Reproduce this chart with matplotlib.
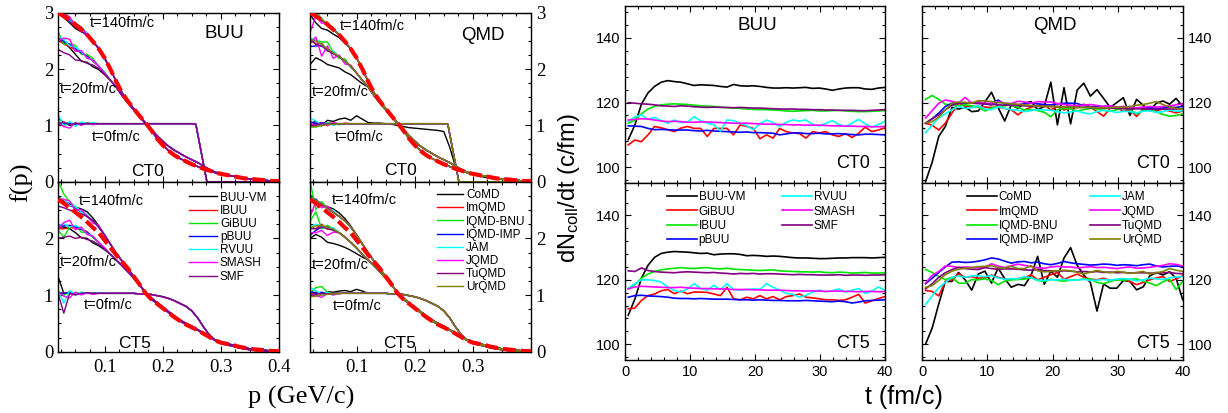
import numpy as np
import matplotlib
matplotlib.use("Agg")
import matplotlib.pyplot as plt
from matplotlib.ticker import MultipleLocator

plt.rcParams['font.family'] = ['Liberation Sans', 'DejaVu Sans']
plt.rcParams['mathtext.fontset'] = 'custom'
plt.rcParams['mathtext.rm'] = 'Liberation Sans'
plt.rcParams['mathtext.it'] = 'Liberation Sans:italic'
SERIF = ['Liberation Serif', 'DejaVu Serif']

W, H = 1228, 413

BLACK, RED, GREEN, BLUE = '#000000', '#ff0000', '#00e600', '#0000ff'
CYAN, MAGENTA, PURPLE, OLIVE = '#00ffff', '#ff00ff', '#800080', '#808000'

########################################################################
# f(p) data
########################################################################

P_GRID = [0.02, 0.03, 0.04, 0.05, 0.06, 0.07, 0.08, 0.09, 0.10, 0.11,
          0.12, 0.13, 0.14, 0.15, 0.16, 0.17, 0.18, 0.19, 0.20, 0.21,
          0.22, 0.23, 0.24, 0.25, 0.26, 0.27, 0.28, 0.29, 0.30, 0.31,
          0.32, 0.33, 0.34, 0.35, 0.36, 0.37, 0.38, 0.39, 0.40]
# Fermi step at t=0 for CT0
P_STEP = P_GRID[:24] + [0.257, 0.276, 0.30, 0.35, 0.40]

# equilibrium (red dashed)
RED_CT0 = [3.00, 2.94, 2.87, 2.79, 2.70, 2.61, 2.49, 2.36, 2.20, 2.00,
           1.78, 1.58, 1.43, 1.30, 1.17, 1.05, 0.92, 0.77, 0.65, 0.55,
           0.47, 0.41, 0.36, 0.31, 0.27, 0.23, 0.20, 0.16, 0.14, 0.12,
           0.10, 0.08, 0.06, 0.05, 0.04, 0.03, 0.02, 0.01, 0.01]
RED_CT5 = [2.69, 2.62, 2.54, 2.46, 2.38, 2.29, 2.19, 2.10, 1.97, 1.84,
           1.71, 1.59, 1.47, 1.33, 1.19, 1.04, 0.93, 0.85, 0.77, 0.69,
           0.61, 0.54, 0.48, 0.43, 0.38, 0.32, 0.26, 0.20, 0.16, 0.14,
           0.12, 0.09, 0.07, 0.05, 0.04, 0.03, 0.02, 0.01, 0.01]

# typical transport curves at each time
T0_CT0 = [1.03, 1.03, 1.03, 1.03, 1.03, 1.03, 1.03, 1.03, 1.03, 1.03,
          1.03, 1.03, 1.03, 1.03, 1.03, 1.03, 1.03, 1.03, 1.03, 1.03,
          1.03, 1.03, 1.03, 1.03, 1.02, 0.00, 0.00, 0.00, 0.00]
T20_CT0 = [2.55, 2.49, 2.43, 2.36, 2.29, 2.22, 2.14, 2.05, 1.93, 1.80,
           1.68, 1.53, 1.40, 1.28, 1.16, 1.04, 0.93, 0.82, 0.72, 0.63,
           0.56, 0.50, 0.44, 0.39, 0.34, 0.28, 0.22, 0.17, 0.14, 0.12,
           0.10, 0.08, 0.06, 0.05, 0.04, 0.03, 0.02, 0.01, 0.01]
T140_CT0 = RED_CT0
T0_CT5 = [1.03, 1.03, 1.03, 1.03, 1.03, 1.03, 1.03, 1.03, 1.03, 1.03,
          1.03, 1.03, 1.03, 1.03, 1.02, 1.02, 1.01, 0.99, 0.97, 0.94,
          0.90, 0.85, 0.80, 0.72, 0.60, 0.44, 0.30, 0.20, 0.15, 0.12,
          0.10, 0.07, 0.05, 0.035, 0.02, 0.01, 0.00, 0.00, 0.00]
T20_CT5 = [2.20, 2.22, 2.22, 2.20, 2.16, 2.10, 2.02, 1.93, 1.83, 1.72,
           1.62, 1.52, 1.41, 1.30, 1.18, 1.05, 0.95, 0.87, 0.79, 0.71,
           0.63, 0.56, 0.50, 0.45, 0.39, 0.33, 0.27, 0.21, 0.17, 0.14,
           0.12, 0.09, 0.07, 0.05, 0.04, 0.03, 0.02, 0.01, 0.01]
T140_CT5 = [2.72, 2.66, 2.60, 2.53, 2.46, 2.39, 2.31, 2.20, 2.06, 1.90,
            1.74, 1.60, 1.47, 1.33, 1.19, 1.04, 0.93, 0.85, 0.77, 0.69,
            0.61, 0.54, 0.48, 0.43, 0.38, 0.32, 0.26, 0.20, 0.16, 0.14,
            0.12, 0.09, 0.07, 0.05, 0.04, 0.03, 0.02, 0.01, 0.01]

# deviations of each code at low momentum (p = 0.02 ... 0.11): t0, t20, t140
BUU_FP = [
    ('BUU-VM', BLACK, [0.09, 0.02, -0.03, 0.0, -0.02, 0.01, 0.0, 0.0, 0.0, 0.0],
                      [0.0, -0.02, -0.05, -0.10, -0.15, -0.10, -0.10, -0.06, -0.03, 0.0],
                      [0.02, -0.03, -0.05, -0.07, -0.04, 0.02, 0.03, 0.0, -0.02, 0.0]),
    ('IBUU', RED,     [0.0, 0.01, -0.01, 0.0, 0.01, 0.0, 0.0, 0.0, 0.0, 0.0],
                      [-0.03, -0.05, -0.03, -0.02, 0.0, 0.02, 0.0, 0.0, 0.0, 0.0],
                      [0.0, 0.01, -0.02, 0.02, 0.0, -0.01, 0.01, 0.0, 0.0, 0.0]),
    ('GiBUU', GREEN,  [0.04, -0.03, 0.03, -0.02, 0.02, 0.0, 0.01, 0.0, 0.0, 0.0],
                      [0.12, -0.05, 0.02, 0.06, -0.03, 0.04, 0.05, 0.0, 0.02, 0.0],
                      [0.05, 0.08, 0.04, 0.02, 0.05, 0.03, 0.0, 0.02, 0.0, 0.0]),
    ('pBUU', BLUE,    [0.0, 0.0, 0.01, -0.01, 0.0, 0.0, 0.0, 0.0, 0.0, 0.0],
                      [0.02, 0.0, 0.01, 0.0, 0.0, 0.0, 0.01, 0.0, 0.0, 0.0],
                      [0.02, 0.0, 0.01, -0.01, 0.01, 0.0, 0.0, 0.0, 0.0, 0.0]),
    ('RVUU', CYAN,    [0.18, -0.06, 0.04, -0.05, 0.03, 0.0, 0.02, 0.0, 0.0, 0.0],
                      [0.02, 0.04, -0.02, 0.03, 0.02, -0.02, 0.02, 0.0, 0.0, 0.0],
                      [0.0, 0.03, -0.02, 0.04, 0.0, 0.03, -0.02, 0.02, 0.0, 0.0]),
    ('SMASH', MAGENTA, [0.02, -0.05, -0.08, 0.02, -0.03, 0.01, -0.02, 0.0, 0.0, 0.0],
                       [-0.05, 0.06, 0.10, -0.05, 0.04, -0.03, 0.02, 0.0, 0.0, 0.0],
                       [-0.04, 0.03, 0.06, -0.03, 0.05, 0.0, -0.04, 0.03, 0.0, 0.0]),
    ('SMF', PURPLE,   [0.0, 0.03, -0.02, 0.01, -0.01, 0.0, 0.0, 0.0, 0.0, 0.0],
                      [-0.20, -0.20, -0.18, -0.20, -0.14, -0.12, -0.07, -0.04, -0.02, 0.0],
                      [0.0, -0.02, -0.03, -0.05, -0.03, -0.02, 0.0, 0.0, 0.0, 0.0]),
]
QMD_FP = [
    ('CoMD', BLACK,   [0.0, 0.02, -0.02, 0.03, 0.02, 0.04, 0.05, 0.03, 0.07, 0.04],
                      [-0.47, -0.29, -0.28, -0.28, -0.24, -0.20, -0.19, -0.15, -0.11, -0.06],
                      [-0.03, -0.12, -0.15, -0.10, -0.08, -0.05, -0.03, 0.0, 0.0, 0.0]),
    ('ImQMD', RED,    [-0.02, 0.01, -0.01, 0.02, 0.0, -0.01, 0.01, 0.0, 0.0, 0.0],
                      [0.0, -0.05, 0.03, -0.04, 0.02, 0.0, 0.01, 0.0, 0.0, 0.0],
                      [0.0, 0.02, -0.02, 0.03, 0.0, 0.0, 0.0, 0.0, 0.0, 0.0]),
    ('IQMD-BNU', GREEN, [-0.05, -0.06, -0.03, 0.0, 0.01, -0.02, 0.0, 0.0, 0.0, 0.0],
                        [-0.05, 0.02, 0.05, 0.12, 0.0, -0.03, 0.04, -0.02, 0.0, 0.0],
                        [0.05, 0.10, 0.02, -0.02, 0.03, 0.0, 0.0, 0.0, 0.0, 0.0]),
    ('IQMD-IMP', BLUE, [0.04, 0.0, 0.02, -0.01, 0.0, 0.0, 0.0, 0.0, 0.0, 0.0],
                       [-0.15, -0.08, -0.02, 0.0, 0.0, 0.0, 0.0, 0.0, 0.0, 0.0],
                       [-0.02, 0.03, 0.0, 0.0, 0.0, 0.0, 0.0, 0.0, 0.0, 0.0]),
    ('JAM', CYAN,     [0.10, 0.05, -0.02, 0.02, -0.03, 0.0, 0.0, 0.0, 0.0, 0.0],
                      [0.0, 0.03, 0.0, -0.02, 0.03, 0.0, 0.0, 0.0, 0.0, 0.0],
                      [0.03, 0.0, 0.03, -0.02, 0.04, 0.0, 0.0, 0.0, 0.0, 0.0]),
    ('JQMD', MAGENTA, [0.03, -0.05, 0.01, -0.04, 0.02, 0.0, 0.0, 0.0, 0.0, 0.0],
                      [-0.10, 0.08, -0.20, 0.05, -0.10, 0.03, -0.05, 0.02, 0.0, 0.0],
                      [-0.35, 0.0, -0.06, 0.04, 0.0, 0.0, 0.0, 0.0, 0.0, 0.0]),
    ('TuQMD', PURPLE, [-0.04, -0.02, 0.0, -0.01, 0.0, 0.0, 0.0, 0.0, 0.0, 0.0],
                      [-0.03, -0.05, -0.02, -0.03, -0.02, 0.0, 0.0, 0.0, 0.0, 0.0],
                      [0.02, -0.02, 0.0, 0.0, 0.0, 0.0, 0.0, 0.0, 0.0, 0.0]),
    ('UrQMD', OLIVE,  [-0.06, -0.05, -0.03, -0.02, -0.01, 0.0, 0.0, 0.0, 0.0, 0.0],
                      [-0.02, 0.0, 0.01, 0.0, 0.0, 0.0, 0.0, 0.0, 0.0, 0.0],
                      [0.0, 0.01, 0.02, 0.0, 0.0, 0.0, 0.0, 0.0, 0.0, 0.0]),
]
# CT5 deviations that differ from CT0
BUU_FP_CT5 = {
    ('BUU-VM', 0): [0.30, 0.0, 0.02, -0.02, 0.01, 0.0, 0.0, 0.0, 0.0, 0.0],
    ('BUU-VM', 2): [0.02, 0.0, -0.02, 0.02, 0.06, 0.08, 0.05, 0.02, 0.0, 0.0],
    ('SMF', 0): [0.0, -0.35, 0.0, -0.03, 0.0, 0.01, 0.0, 0.0, 0.0, 0.0],
    ('SMF', 2): [-0.15, -0.12, -0.10, -0.06, -0.03, 0.0, 0.0, 0.0, 0.0, 0.0],
    ('RVUU', 0): [0.05, -0.17, 0.05, -0.02, 0.02, 0.0, 0.0, 0.0, 0.0, 0.0],
    ('GiBUU', 1): [-0.05, -0.20, -0.02, 0.03, -0.05, 0.0, 0.0, 0.0, 0.0, 0.0],
    ('GiBUU', 2): [0.30, 0.12, 0.05, 0.02, 0.0, 0.0, 0.0, 0.0, 0.0, 0.0],
}
QMD_FP_CT5 = {
    ('CoMD', 1): [-0.20, -0.15, -0.20, -0.27, -0.25, -0.22, -0.18, -0.14, -0.10, -0.05],
    ('CoMD', 2): [0.05, 0.0, -0.02, 0.03, 0.06, 0.06, 0.04, 0.02, 0.0, 0.0],
    ('IQMD-BNU', 0): [0.0, 0.10, 0.12, 0.02, 0.0, 0.0, 0.0, 0.0, 0.0, 0.0],
    ('IQMD-BNU', 1): [0.10, 0.25, -0.05, 0.03, 0.0, 0.0, 0.0, 0.0, 0.0, 0.0],
    ('IQMD-BNU', 2): [0.30, -0.15, 0.05, 0.0, 0.0, 0.0, 0.0, 0.0, 0.0, 0.0],
    ('JQMD', 0): [-0.05, -0.04, -0.07, 0.0, -0.03, 0.0, 0.0, 0.0, 0.0, 0.0],
    ('JQMD', 1): [-0.10, -0.12, -0.08, -0.15, -0.05, 0.0, 0.0, 0.0, 0.0, 0.0],
}
# CoMD initial distribution (CT0) is smeared near the Fermi surface
COMD_T0_CT0 = [1.03, 1.05, 1.01, 1.06, 1.05, 1.07, 1.08, 1.06, 1.10, 1.07,
               1.05, 1.04, 1.04, 1.03, 1.02, 1.00, 0.98, 0.96, 0.95, 0.94,
               0.93, 0.92, 0.91, 0.89, 0.62, 0.27, 0.20, 0.16, 0.13, 0.10,
               0.08, 0.06, 0.05, 0.04, 0.03, 0.02, 0.01, 0.01, 0.00]

########################################################################
# dN_coll/dt data
########################################################################

TIME = np.linspace(0.5, 40.0, 40)

BUUVM_CT0 = [108.5, 113.0, 119.5, 123.0, 125.0, 126.3, 126.8, 126.5, 126.3, 125.8,
             125.3, 125.5, 125.4, 125.3, 125.0, 124.8, 125.6, 125.2, 125.1, 125.2,
             125.0, 124.7, 124.5, 124.5, 124.6, 124.5, 124.6, 124.7, 124.4, 124.5,
             124.2, 123.8, 124.2, 124.5, 124.6, 124.6, 124.2, 124.1, 124.5, 124.7]
GIBUU_CT0 = [106.9, 108.4, 107.9, 110.0, 112.6, 112.2, 111.6, 111.0, 112.1, 112.6,
             112.0, 112.0, 109.5, 112.0, 112.0, 112.0, 110.0, 113.1, 112.6, 112.0,
             108.8, 110.0, 109.0, 112.0, 111.0, 110.6, 110.4, 109.0, 111.0, 110.6,
             111.0, 110.0, 109.5, 110.4, 109.2, 110.5, 112.4, 111.0, 111.5, 112.2]
IBUU_CT0 = [113.6, 114.5, 116.5, 118.0, 118.8, 119.3, 119.5, 119.6, 119.5, 119.4,
            119.2, 119.0, 118.9, 118.8, 118.6, 118.4, 118.3, 118.2, 118.0, 117.9,
            117.8, 117.8, 117.7, 117.6, 117.4, 117.3, 117.4, 117.5, 117.6, 117.4,
            117.4, 117.5, 117.6, 117.4, 117.3, 117.2, 117.2, 117.3, 117.4, 117.5]
PBUU_CT0 = [112.8, 112.7, 112.6, 112.0, 111.6, 111.7, 111.6, 111.5, 111.5, 111.5,
            111.3, 111.2, 111.4, 111.2, 111.1, 111.0, 110.9, 110.8, 110.9, 110.7,
            110.7, 110.6, 110.5, 110.0, 110.3, 110.6, 110.6, 110.4, 110.4, 110.5,
            110.3, 110.3, 110.4, 110.2, 110.1, 110.0, 110.2, 110.2, 110.1, 110.0]
RVUU_CT0 = [114.1, 115.5, 116.2, 114.8, 115.4, 114.4, 113.6, 114.6, 113.8, 114.0,
            115.6, 114.4, 113.6, 113.2, 111.2, 114.6, 114.4, 113.6, 112.8, 111.6,
            113.4, 114.6, 113.8, 112.6, 113.9, 114.6, 114.3, 114.6, 113.2, 112.8,
            113.5, 114.4, 113.2, 112.6, 113.6, 114.8, 113.4, 112.4, 113.2, 114.2]
SMASH_CT0 = [114.6, 114.8, 115.0, 114.9, 114.6, 114.3, 114.1, 114.2, 114.1, 113.9,
             113.9, 114.0, 114.0, 113.9, 113.8, 113.7, 113.6, 113.6, 113.6, 113.5,
             113.4, 113.3, 113.3, 113.2, 113.2, 113.1, 113.1, 113.0, 113.0, 113.0,
             112.9, 112.8, 112.8, 112.7, 112.7, 112.6, 112.6, 112.5, 112.5, 112.6]
SMF_CT0 = [120.0, 119.8, 119.6, 119.5, 119.3, 119.0, 118.9, 118.8, 119.0, 118.9,
           118.7, 118.6, 118.5, 118.6, 118.5, 118.5, 118.4, 118.5, 118.4, 118.3,
           118.3, 118.2, 118.1, 118.0, 118.0, 118.0, 117.9, 117.9, 117.8, 117.8,
           117.7, 117.7, 117.6, 117.6, 117.6, 117.5, 117.5, 117.6, 117.7, 117.8]

BUUVM_CT5 = [109.0, 114.0, 120.5, 124.5, 127.0, 128.2, 128.6, 128.8, 128.7, 128.6,
             128.4, 128.2, 128.3, 127.8, 128.0, 128.1, 128.1, 127.9, 127.5, 127.6,
             127.5, 127.3, 127.4, 127.3, 127.1, 126.9, 126.8, 126.8, 126.7, 126.6,
             126.6, 126.7, 126.8, 126.8, 126.9, 126.9, 126.9, 126.8, 126.9, 127.0]
GIBUU_CT5 = [111.0, 111.2, 113.6, 115.1, 115.6, 116.6, 117.0, 115.7, 116.5, 115.7,
             116.2, 116.2, 116.1, 115.6, 115.1, 117.7, 114.1, 113.8, 114.6, 114.1,
             115.1, 114.1, 114.8, 113.8, 114.8, 115.1, 115.6, 114.6, 114.4, 114.1,
             113.8, 113.8, 113.6, 113.8, 114.6, 115.5, 112.8, 113.5, 114.2, 114.8]
IBUU_CT5 = [117.2, 118.5, 120.5, 121.8, 122.6, 123.1, 123.4, 123.6, 123.8, 123.6,
            123.5, 123.7, 123.8, 123.5, 123.4, 123.6, 123.3, 123.2, 123.1, 123.0,
            122.9, 123.0, 123.1, 122.8, 122.7, 122.6, 122.5, 122.5, 122.4, 122.5,
            122.3, 122.2, 122.4, 122.3, 122.1, 122.2, 122.3, 122.1, 122.1, 122.2]
PBUU_CT5 = [114.6, 115.1, 115.2, 115.0, 114.9, 114.8, 114.6, 114.3, 114.2, 114.2,
            114.1, 114.2, 114.1, 114.0, 114.0, 114.0, 113.9, 113.8, 113.8, 113.7,
            113.8, 113.7, 113.6, 113.6, 113.5, 113.5, 113.5, 113.6, 113.5, 113.4,
            113.3, 113.2, 113.4, 113.2, 112.8, 113.1, 113.5, 113.6, 113.7, 113.8]
RVUU_CT5 = [117.4, 118.8, 120.0, 120.0, 119.8, 119.3, 117.8, 116.7, 116.2, 117.2,
            118.8, 117.3, 116.8, 118.3, 117.0, 118.8, 117.0, 116.8, 117.0, 117.2,
            117.0, 118.8, 117.7, 116.8, 115.8, 115.5, 114.6, 115.2, 116.2, 116.8,
            116.3, 116.6, 117.2, 116.2, 116.8, 117.3, 115.8, 116.5, 117.8, 116.8]
SMASH_CT5 = [117.2, 117.8, 118.0, 117.9, 117.8, 117.7, 117.6, 117.6, 117.7, 117.5,
             117.4, 117.3, 117.3, 117.2, 117.2, 117.1, 117.0, 117.0, 117.0, 116.9,
             116.9, 116.8, 116.8, 116.8, 116.7, 116.6, 116.6, 116.5, 116.6, 116.5,
             116.4, 116.5, 116.5, 116.4, 116.4, 116.3, 116.4, 116.4, 116.3, 116.4]
SMF_CT5 = [122.8, 122.6, 123.7, 122.9, 122.6, 122.4, 122.3, 122.2, 122.4, 122.5,
           122.4, 122.3, 122.2, 122.3, 122.1, 122.0, 121.8, 122.0, 121.9, 122.0,
           121.8, 121.9, 121.9, 121.8, 121.7, 121.6, 121.7, 121.6, 121.6, 121.5,
           121.5, 121.5, 121.6, 121.4, 121.5, 121.5, 121.4, 121.5, 121.5, 121.6]

COMD_CT0 = [95.5, 101.5, 109.5, 112.6, 118.5, 118.0, 118.6, 117.2, 117.4, 120.2,
            123.2, 118.5, 114.3, 119.3, 118.2, 119.8, 120.3, 117.8, 118.8, 126.3,
            113.1, 124.6, 113.4, 123.9, 126.0, 122.0, 124.0, 121.3, 118.5, 120.0,
            121.5, 116.0, 121.0, 119.2, 117.5, 119.8, 120.5, 119.5, 121.3, 118.8]
IMQMD_CT0 = [113.6, 113.0, 111.5, 113.6, 116.7, 119.8, 119.0, 118.6, 118.8, 118.6,
             118.5, 118.6, 118.2, 117.8, 116.2, 117.7, 118.6, 119.0, 119.4, 117.7,
             118.8, 117.7, 118.3, 118.5, 119.5, 118.6, 117.2, 115.8, 118.3, 118.5,
             117.3, 117.8, 115.7, 118.0, 118.4, 117.5, 118.0, 117.4, 116.8, 117.4]
BNU_CT0 = [121.0, 122.2, 121.0, 119.5, 119.2, 119.0, 119.3, 119.0, 118.6, 117.4,
           118.3, 118.8, 119.0, 119.2, 118.5, 117.7, 117.9, 117.5, 117.0, 115.6,
           117.8, 118.2, 118.0, 117.4, 117.8, 118.2, 118.0, 117.6, 117.3, 117.8,
           118.3, 117.8, 116.5, 117.5, 117.8, 117.2, 116.3, 115.8, 116.0, 116.5]
IMP_CT0 = [113.6, 115.0, 116.7, 118.8, 119.8, 119.8, 119.8, 120.0, 119.8, 119.6,
           119.3, 120.8, 119.5, 119.4, 119.3, 119.6, 119.8, 119.6, 119.4, 119.3,
           119.6, 119.8, 119.8, 119.7, 119.0, 118.8, 118.7, 118.8, 119.0, 118.6,
           118.4, 118.8, 118.2, 118.5, 118.3, 118.2, 118.3, 118.6, 118.5, 118.8]
JAM_CT0 = [110.7, 113.0, 115.3, 116.5, 117.8, 118.8, 118.2, 118.4, 119.0, 118.0,
           117.8, 118.7, 118.2, 117.8, 117.6, 117.2, 117.5, 117.8, 117.7, 117.6,
           117.2, 116.8, 117.1, 117.4, 116.8, 116.5, 117.2, 117.6, 117.4, 116.9,
           117.3, 117.2, 116.8, 117.3, 117.5, 116.9, 117.2, 117.7, 117.3, 117.5]
JQMD_CT0 = [115.2, 117.5, 119.8, 120.8, 120.4, 119.8, 121.6, 119.8, 120.3, 119.8,
            119.8, 120.3, 119.8, 119.7, 120.4, 120.2, 119.8, 120.3, 120.2, 120.2,
            119.7, 119.4, 119.2, 119.0, 119.2, 119.4, 119.1, 118.8, 119.0, 118.6,
            118.8, 118.5, 118.4, 118.6, 118.8, 118.6, 118.8, 119.0, 119.3, 119.6]
TUQMD_CT0 = [113.6, 115.0, 116.2, 117.7, 119.2, 119.8, 120.0, 119.8, 119.7, 119.6,
             119.4, 119.3, 119.2, 119.2, 119.1, 119.0, 118.9, 118.8, 118.8, 118.8,
             118.8, 118.7, 118.6, 118.5, 118.5, 118.4, 118.4, 118.2, 118.3, 118.2,
             118.1, 118.0, 118.1, 118.0, 117.9, 117.9, 118.0, 118.0, 118.0, 118.1]
URQMD_CT0 = [113.8, 114.1, 115.5, 117.7, 119.8, 120.2, 120.0, 119.8, 120.6, 120.5,
             120.3, 120.0, 119.8, 119.6, 119.5, 119.3, 119.1, 118.9, 118.8, 118.8,
             118.7, 118.7, 118.6, 118.5, 118.5, 118.6, 118.4, 118.3, 118.4, 118.6,
             118.5, 118.7, 119.2, 119.4, 119.8, 120.3, 119.4, 118.6, 118.2, 118.0]

COMD_CT5 = [100.0, 105.0, 112.5, 119.5, 119.5, 122.3, 120.0, 116.8, 121.8, 122.7,
            119.0, 123.7, 120.4, 117.7, 118.6, 118.2, 121.4, 127.3, 118.6, 122.7,
            120.8, 126.8, 130.0, 124.5, 121.5, 119.2, 110.3, 118.7, 117.4, 117.4,
            119.8, 119.5, 116.9, 117.8, 121.2, 122.3, 121.5, 122.5, 120.5, 113.8]
IMQMD_CT5 = [116.7, 116.4, 115.0, 119.5, 120.0, 121.9, 120.8, 121.0, 120.5, 120.6,
             121.5, 120.8, 120.3, 120.2, 120.4, 120.6, 121.6, 120.0, 120.8, 121.6,
             122.3, 120.2, 121.0, 121.8, 120.8, 120.2, 120.0, 120.5, 119.8, 120.0,
             120.3, 119.5, 118.5, 119.2, 120.0, 120.6, 121.0, 119.5, 120.3, 121.3]
BNU_CT5 = [123.2, 122.3, 121.0, 120.1, 120.8, 119.0, 118.9, 120.1, 120.0, 120.3,
           119.8, 118.5, 119.6, 120.0, 120.1, 120.2, 120.8, 119.8, 119.5, 120.2,
           119.8, 119.6, 119.9, 120.0, 120.2, 120.3, 119.2, 118.8, 119.5, 120.0,
           119.9, 120.1, 120.3, 119.6, 119.0, 118.2, 119.4, 120.2, 117.0, 119.5]
IMP_CT5 = [118.8, 120.5, 122.3, 124.0, 125.5, 125.6, 125.4, 125.5, 125.8, 126.2,
           126.8, 126.5, 125.8, 125.2, 125.6, 125.7, 125.3, 125.5, 125.0, 124.7,
           125.1, 125.7, 125.3, 125.0, 124.8, 124.6, 124.7, 124.9, 124.8, 124.5,
           124.7, 124.6, 124.4, 124.7, 124.9, 124.3, 124.0, 124.2, 124.3, 124.1]
JAM_CT5 = [112.4, 115.0, 117.5, 119.2, 120.8, 121.2, 120.8, 121.2, 121.3, 121.0,
           121.3, 120.6, 120.2, 120.4, 120.3, 121.0, 120.6, 119.9, 119.8, 120.0,
           120.0, 120.2, 119.8, 120.0, 120.2, 119.8, 119.9, 120.1, 119.9, 120.2,
           120.4, 120.2, 119.7, 120.0, 120.5, 120.3, 120.1, 120.6, 120.9, 121.0]
JQMD_CT5 = [119.0, 121.4, 122.6, 124.3, 124.2, 123.8, 124.0, 123.9, 123.7, 123.8,
            125.0, 124.3, 123.8, 124.4, 124.9, 124.5, 124.1, 123.8, 123.6, 124.0,
            124.2, 124.0, 124.0, 123.7, 123.9, 124.1, 123.8, 123.9, 123.7, 123.5,
            123.8, 124.0, 123.6, 123.7, 123.9, 124.2, 124.5, 125.0, 124.8, 124.3]
TUQMD_CT5 = [117.2, 118.8, 120.8, 122.2, 123.2, 123.9, 123.5, 123.3, 123.2, 123.8,
             123.5, 123.3, 123.4, 123.4, 123.3, 123.1, 123.0, 123.2, 122.9, 122.8,
             122.6, 122.8, 122.7, 122.5, 122.6, 122.4, 122.6, 122.3, 122.4, 122.2,
             122.3, 122.1, 122.2, 122.2, 122.1, 122.0, 122.2, 122.3, 122.0, 121.9]
URQMD_CT5 = [117.7, 118.2, 119.8, 121.6, 122.7, 123.3, 123.6, 123.8, 124.1, 124.2,
             124.4, 123.8, 123.6, 124.2, 123.5, 123.5, 124.4, 122.8, 122.5, 122.6,
             122.8, 123.0, 122.8, 122.4, 121.8, 122.4, 122.9, 122.5, 122.2, 122.6,
             122.4, 122.0, 122.3, 122.6, 121.8, 122.2, 122.6, 123.5, 123.0, 122.6]

BUU_DN = [('BUU-VM', BLACK, BUUVM_CT0, BUUVM_CT5),
          ('GiBUU', RED, GIBUU_CT0, GIBUU_CT5),
          ('IBUU', GREEN, IBUU_CT0, IBUU_CT5),
          ('pBUU', BLUE, PBUU_CT0, PBUU_CT5),
          ('RVUU', CYAN, RVUU_CT0, RVUU_CT5),
          ('SMASH', MAGENTA, SMASH_CT0, SMASH_CT5),
          ('SMF', PURPLE, SMF_CT0, SMF_CT5)]
QMD_DN = [('CoMD', BLACK, COMD_CT0, COMD_CT5),
          ('ImQMD', RED, IMQMD_CT0, IMQMD_CT5),
          ('IQMD-BNU', GREEN, BNU_CT0, BNU_CT5),
          ('IQMD-IMP', BLUE, IMP_CT0, IMP_CT5),
          ('JAM', CYAN, JAM_CT0, JAM_CT5),
          ('JQMD', MAGENTA, JQMD_CT0, JQMD_CT5),
          ('TuQMD', PURPLE, TUQMD_CT0, TUQMD_CT5),
          ('UrQMD', OLIVE, URQMD_CT0, URQMD_CT5)]

########################################################################
# helpers
########################################################################

def px_rect(x0, y0, x1, y1):
    return [x0 / W, 1 - y1 / H, (x1 - x0) / W, (y1 - y0) / H]


def with_dev(mean, dev):
    f = np.array(mean, dtype=float)
    f[:len(dev)] += np.array(dev)
    return f


def style_ticks(ax):
    ax.tick_params(which='both', direction='in', top=True, right=True,
                   bottom=True, left=True, width=0.8)
    ax.tick_params(which='major', length=4.5)
    ax.tick_params(which='minor', length=2.5)
    for s in ax.spines.values():
        s.set_linewidth(1.0)


def plot_fp(ax, models, ct, overrides, group):
    if ct == 'CT0':
        means = [(P_STEP, T0_CT0), (P_GRID, T20_CT0), (P_GRID, T140_CT0)]
        red = RED_CT0
    else:
        means = [(P_GRID, T0_CT5), (P_GRID, T20_CT5), (P_GRID, T140_CT5)]
        red = RED_CT5
    for name, color, d0, d20, d140 in models:
        devs = [d0, d20, d140]
        for k in range(3):
            p, mean = means[k]
            dev = overrides.get((name, k), devs[k]) if ct == 'CT5' else devs[k]
            if group == 'QMD' and ct == 'CT0' and name == 'CoMD' and k == 0:
                p, mean = P_GRID, COMD_T0_CT0
            ax.plot(p, with_dev(mean, dev), color=color, lw=1.0,
                    label=name if k == 0 else None)
    ax.plot(P_GRID, red, color=RED, lw=3.0, dashes=(3.1, 1.2), zorder=5)

    ax.set_xlim(0.02, 0.4)
    ax.set_ylim(0, 3)
    ax.set_xticks([0.1, 0.2, 0.3, 0.4])
    ax.xaxis.set_minor_locator(MultipleLocator(0.025))
    ax.set_yticks([0, 1, 2, 3])
    ax.yaxis.set_minor_locator(MultipleLocator(0.25))
    style_ticks(ax)

    if ct == 'CT0':
        ax.set_xticklabels([])
        ylabs = ['0', '1', '2', '3']
    else:
        xl = ['0.1', '0.2', '0.3', '0.4'] if group == 'BUU' else ['0.1', '0.2', '0.3', '']
        ax.set_xticklabels(xl, fontfamily=SERIF, fontsize=13.5)
        ylabs = ['0', '1', '2', '']
    ax.set_yticklabels(ylabs, fontfamily=SERIF, fontsize=13.5)
    if group == 'QMD':
        ax.tick_params(labelleft=False, labelright=True)
    ax.tick_params(axis='x', pad=5)


def plot_dn(ax, models, ct, group):
    for name, color, v0, v5 in models:
        ax.plot(TIME, v0 if ct == 'CT0' else v5, color=color, lw=1.2, label=name)
    ax.set_xlim(0, 40)
    ax.set_ylim(95, 150)
    ax.set_xticks([0, 10, 20, 30, 40])
    ax.xaxis.set_minor_locator(MultipleLocator(2))
    ax.set_yticks([100, 120, 140])
    ax.yaxis.set_minor_locator(MultipleLocator(4))
    style_ticks(ax)
    ax.tick_params(labelsize=10.5)
    if ct == 'CT0':
        ax.set_xticklabels([])
    if group == 'QMD':
        ax.tick_params(labelleft=False, labelright=True)


def txt(ax, x, y, s, size, ha='left'):
    ax.text(x, y, s, transform=ax.transAxes, fontsize=size, ha=ha, va='center')

########################################################################
# figure
########################################################################

fig = plt.figure(figsize=(W / 100, H / 100), dpi=100)

ax_fb0 = fig.add_axes(px_rect(58, 12.7, 279, 181.7))
ax_fb5 = fig.add_axes(px_rect(58, 181.7, 279, 351.7))
ax_fq0 = fig.add_axes(px_rect(310, 12.7, 531, 181.7))
ax_fq5 = fig.add_axes(px_rect(310, 181.7, 531, 351.7))
ax_db0 = fig.add_axes(px_rect(625, 5.7, 885, 183.3))
ax_db5 = fig.add_axes(px_rect(625, 183.3, 885, 360.3))
ax_dq0 = fig.add_axes(px_rect(922.3, 5.7, 1182.7, 183.3))
ax_dq5 = fig.add_axes(px_rect(922.3, 183.3, 1182.7, 360.3))

plot_fp(ax_fb0, BUU_FP, 'CT0', BUU_FP_CT5, 'BUU')
plot_fp(ax_fb5, BUU_FP, 'CT5', BUU_FP_CT5, 'BUU')
plot_fp(ax_fq0, QMD_FP, 'CT0', QMD_FP_CT5, 'QMD')
plot_fp(ax_fq5, QMD_FP, 'CT5', QMD_FP_CT5, 'QMD')

plot_dn(ax_db0, BUU_DN, 'CT0', 'BUU')
plot_dn(ax_db5, BUU_DN, 'CT5', 'BUU')
plot_dn(ax_dq0, QMD_DN, 'CT0', 'QMD')
plot_dn(ax_dq5, QMD_DN, 'CT5', 'QMD')

# labels inside f(p) panels
for ax, a, b, c, ct, cpos in [(ax_fb0, (0.145, 0.937), (0.006, 0.547), (0.152, 0.266), 'CT0', (0.407, 0.062)),
                              (ax_fq0, (0.133, 0.921), (0.008, 0.533), (0.110, 0.266), 'CT0', (0.410, 0.068)),
                              (ax_fb5, (0.095, 0.888), (0.006, 0.529), (0.115, 0.275), 'CT5', (0.348, 0.048)),
                              (ax_fq5, (0.098, 0.892), (0.008, 0.510), (0.105, 0.269), 'CT5', (0.407, 0.050))]:
    txt(ax, a[0], a[1], 't=140fm/c', 10.5)
    txt(ax, b[0], b[1], 't=20fm/c', 10.5)
    txt(ax, c[0], c[1], 't=0fm/c', 10.5)
    txt(ax, cpos[0], cpos[1], ct, 12.5, ha='center')
txt(ax_fb0, 0.751, 0.878, 'BUU', 13.5, ha='center')
txt(ax_fq0, 0.784, 0.868, 'QMD', 13.5, ha='center')

# labels inside dN/dt panels
txt(ax_db0, 0.51, 0.891, 'BUU', 13.5, ha='center')
txt(ax_dq0, 0.51, 0.891, 'QMD', 13.5, ha='center')
txt(ax_db0, 0.877, 0.113, 'CT0', 13, ha='center')
txt(ax_dq0, 0.886, 0.113, 'CT0', 13, ha='center')
txt(ax_db5, 0.877, 0.096, 'CT5', 13, ha='center')
txt(ax_dq5, 0.887, 0.096, 'CT5', 13, ha='center')

# legends
ax_fb5.legend(loc='upper left', bbox_to_anchor=(0.593, 0.942), frameon=False,
              fontsize=8.5, handlelength=2.37, handletextpad=0.25,
              labelspacing=0.1, borderpad=0, borderaxespad=0)
ax_fq5.legend(loc='upper left', bbox_to_anchor=(0.573, 0.956), frameon=False,
              fontsize=8.5, handlelength=2.25, handletextpad=0.25,
              labelspacing=0.1, borderpad=0, borderaxespad=0)
ax_db5.legend(loc='upper left', bbox_to_anchor=(0.1615, 0.955), frameon=False, ncol=2,
              fontsize=8.5, handlelength=2.54, handletextpad=0.15,
              labelspacing=0.2, columnspacing=3.1, borderpad=0, borderaxespad=0)
ax_dq5.legend(loc='upper left', bbox_to_anchor=(0.172, 0.955), frameon=False, ncol=2,
              fontsize=8.5, handlelength=2.54, handletextpad=0.15,
              labelspacing=0.2, columnspacing=2.7, borderpad=0, borderaxespad=0)

# axis titles
fig.text(22 / W, 1 - 182 / H, 'f(p)', rotation=90, ha='center', va='center',
         fontfamily=SERIF, fontsize=19)
fig.text(301 / W, 1 - 397 / H, 'p (GeV/c)', ha='center', va='center',
         fontfamily=SERIF, fontsize=19)
fig.text(569 / W, 1 - 188 / H, r'dN$_{\rm coll}$/dt (c/fm)', rotation=90,
         ha='center', va='center', fontsize=17)
fig.text(904 / W, 1 - 397 / H, 't (fm/c)', ha='center', va='center', fontsize=18)

fig.savefig('out.png', dpi=100)
